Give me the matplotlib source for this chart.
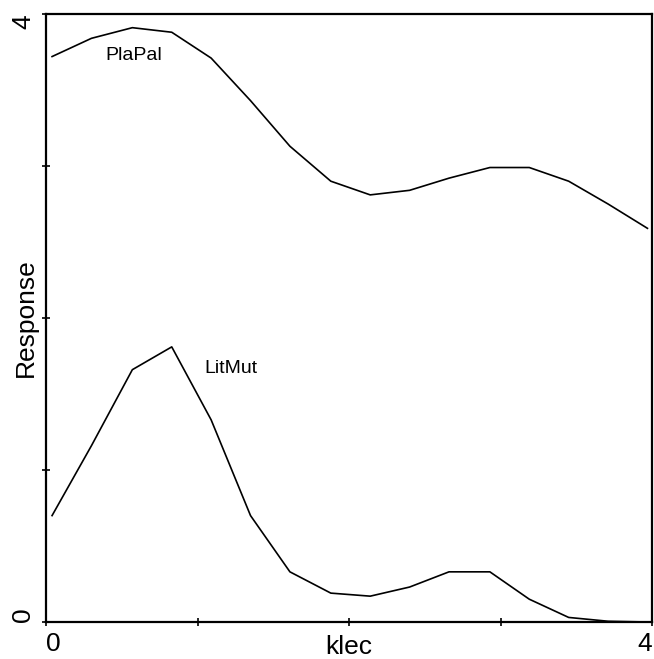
import matplotlib
matplotlib.use("Agg")
import matplotlib.pyplot as plt

plt.rcParams['font.family'] = ['Liberation Sans', 'DejaVu Sans']

# sample positions along klec
klec = [0.04, 0.30, 0.57, 0.83, 1.09, 1.35, 1.61, 1.88, 2.14, 2.40,
        2.66, 2.93, 3.19, 3.45, 3.71, 3.97]
plapal = [3.72, 3.84, 3.91, 3.88, 3.71, 3.43, 3.13, 2.90, 2.81, 2.84,
          2.92, 2.99, 2.99, 2.90, 2.75, 2.59]
litmut = [0.70, 1.16, 1.66, 1.81, 1.33, 0.70, 0.33, 0.19, 0.17, 0.23,
          0.33, 0.33, 0.15, 0.03, 0.005, 0.0]

fig = plt.figure(figsize=(6.54, 6.59), dpi=100)
ax = fig.add_axes([46/654, 37/659, 606/654, 608/659])

ax.plot(klec, plapal, color='black', linewidth=1.2)
ax.plot(klec, litmut, color='black', linewidth=1.2)

ax.text(0.58, 3.73, 'PlaPal', fontsize=14, ha='center', va='center')
ax.text(1.22, 1.67, 'LitMut', fontsize=14, ha='center', va='center')

ax.set_xlim(0, 4)
ax.set_ylim(0, 4)

for s in ax.spines.values():
    s.set_linewidth(1.6)

ax.set_xticks([0, 1, 2, 3, 4])
ax.set_xticklabels(['0', '', '', '', '4'])
ax.set_yticks([0, 1, 2, 3, 4])
ax.set_yticklabels(['0', '', '', '', '4'])
ax.tick_params(direction='inout', length=6, width=1.2, labelsize=19)
ax.tick_params(axis='x', pad=4)
ax.tick_params(axis='y', pad=5, labelrotation=90)

xl = ax.get_xticklabels()
xl[0].set_ha('left')
xl[-1].set_ha('right')
yl = ax.get_yticklabels()
yl[0].set_va('bottom')
yl[-1].set_va('top')

ax.set_xlabel('klec', fontsize=19)
ax.xaxis.set_label_coords(0.5, -0.021)
ax.set_ylabel('Response', fontsize=19)
ax.yaxis.set_label_coords(-0.013, 0.5)

fig.savefig('out.png', dpi=100)
